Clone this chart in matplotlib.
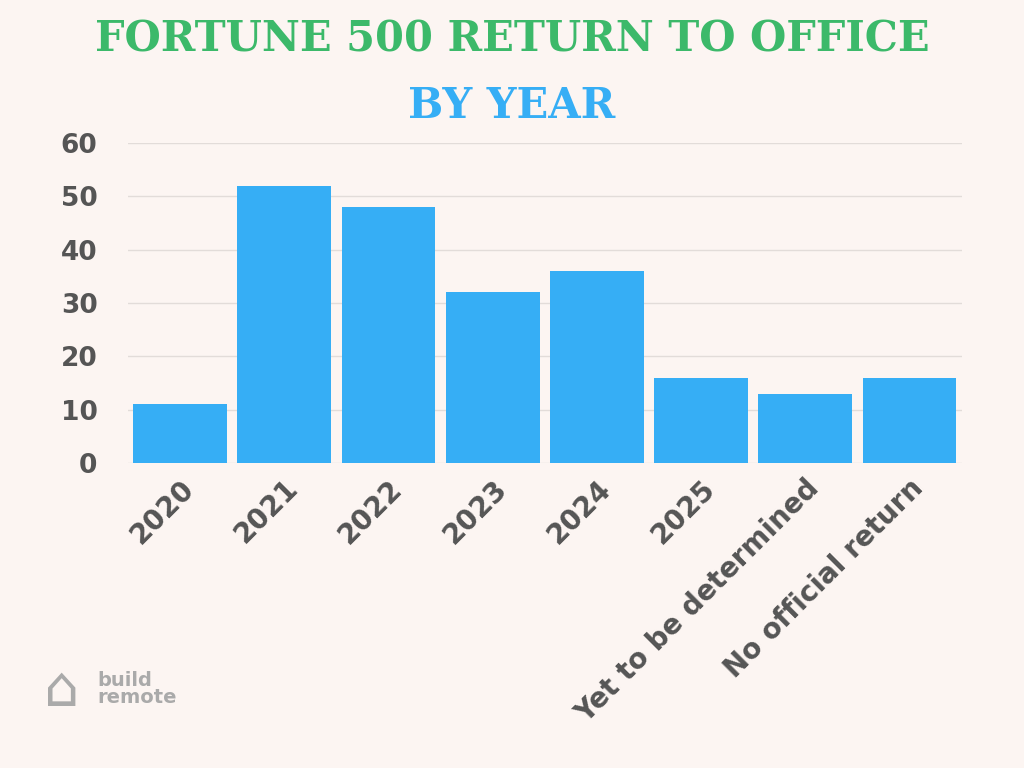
import matplotlib
matplotlib.use("Agg")
import matplotlib.pyplot as plt
from matplotlib.transforms import offset_copy

categories = ["2020", "2021", "2022", "2023", "2024", "2025", "Yet to be determined", "No official return"]
values = [11, 52, 48, 32, 36, 16, 13, 16]
yticks = [0, 10, 20, 30, 40, 50, 60]

bg = "#fcf5f2"
fig = plt.figure(figsize=(10.24, 7.68), dpi=100, facecolor=bg)
ax = fig.add_axes([0.125, 0.397, 0.814, 0.417], facecolor=bg)
x = range(len(categories))
ax.bar(x, values, width=0.9, color="#36aef5", zorder=3)
ax.set_xlim(-0.5, len(categories) - 0.5)
ax.set_ylim(0, 60)
ax.set_yticks(yticks)
ax.set_yticklabels([str(v) for v in yticks], fontsize=19, fontweight="bold", color="#555555")
ax.set_xticks(list(x))
ax.set_xticklabels(categories, rotation=45, ha="right", rotation_mode="anchor",
                   fontsize=20, fontweight="bold", color="#555555")
for lab in ax.get_xticklabels():
    lab.set_transform(lab.get_transform() + matplotlib.transforms.ScaledTranslation(0.2, -0.1, fig.dpi_scale_trans))
ax.tick_params(length=0, pad=8)
ax.tick_params(axis="y", pad=22)
ax.grid(axis="y", color="#e2dcd9", linewidth=1, zorder=0)
for s in ax.spines.values():
    s.set_visible(False)

fig.text(0.5, 0.948, "FORTUNE 500 RETURN TO OFFICE", ha="center", va="center",
         fontsize=30, fontweight="bold", family="DejaVu Serif", color="#3cb96a")
fig.text(0.5, 0.862, "BY YEAR", ha="center", va="center",
         fontsize=30, fontweight="bold", family="DejaVu Serif", color="#36aef5")

fig.text(0.095, 0.103, "build\nremote", ha="left", va="center", fontsize=14,
         fontweight="bold", color="#aaaaaa", linespacing=0.9)
fig.text(0.06, 0.1, "⌂", ha="center", va="center", fontsize=40, color="#aaaaaa")

fig.savefig("out.png", dpi=100, facecolor=bg)
